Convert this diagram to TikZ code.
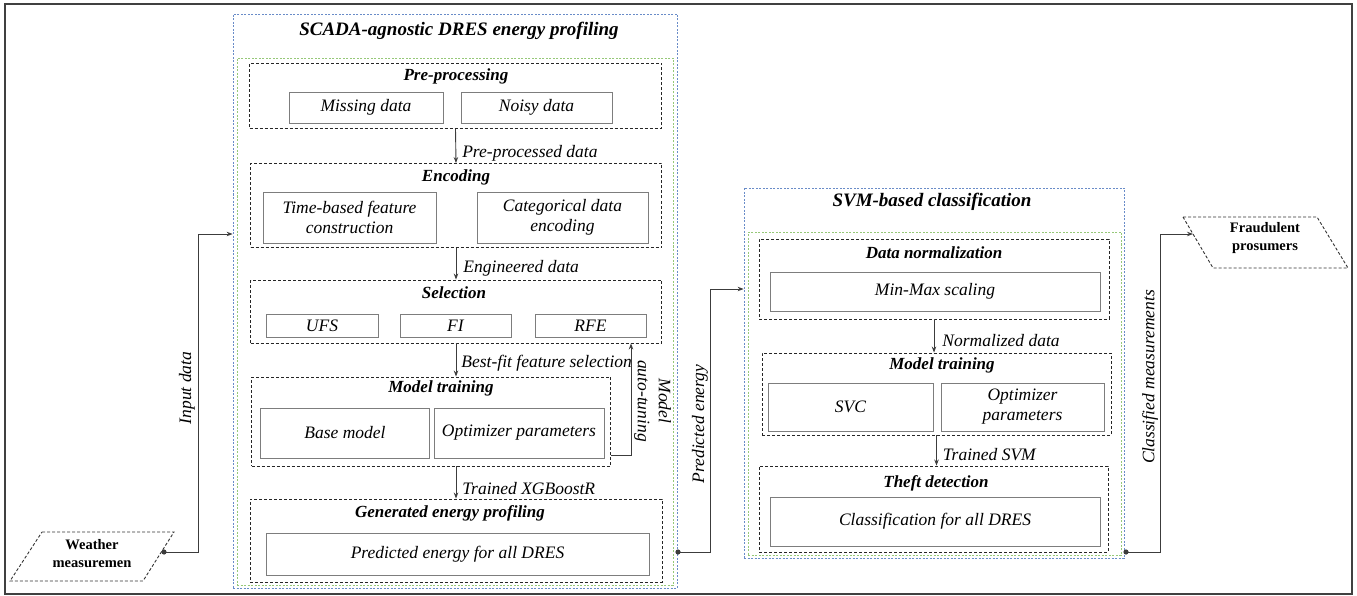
\documentclass[tikz,border=0pt]{standalone}
\usepackage{fontspec}
\setmainfont{Liberation Serif}
\usetikzlibrary{positioning,arrows.meta,calc}
\definecolor{framegray}{RGB}{64,64,64}
\definecolor{outerblue}{RGB}{105,140,200}
\definecolor{innergreen}{RGB}{150,200,120}
\definecolor{itemgray}{RGB}{125,125,125}
\definecolor{linegray}{RGB}{60,60,60}
\newcommand{\weatherpar}{(42,532)--(174,532)--(143,581)--(10,581)--cycle}
\newcommand{\fraudpar}{(1183,217)--(1317,217)--(1348,268)--(1213,268)--cycle}

\begin{document}
\begin{tikzpicture}[x=1pt,y=-1pt,
  boxsize/.style args={#1x#2}{minimum width=#1pt,minimum height=#2pt,inner sep=0pt},
  outerbox/.style={draw=outerblue,line width=0.8pt,dash pattern=on 2pt off 1.5pt},
  innerbox/.style={draw=innergreen,line width=0.8pt,dash pattern=on 2pt off 1.5pt},
  stagebox/.style={draw=black!85,line width=0.9pt,dash pattern=on 3pt off 2pt},
  itembox/.style={draw=itemgray,line width=0.9pt,align=center,
    font=\fontsize{17.5}{20}\selectfont\itshape},
  maintitle/.style={font=\fontsize{19}{22}\selectfont\bfseries\itshape},
  stagetitle/.style={font=\fontsize{17}{20}\selectfont\bfseries\itshape},
  flowlabel/.style={font=\fontsize{17.5}{21}\selectfont\itshape,inner sep=0pt},
  iotext/.style={font=\fontsize{14.5}{18}\selectfont\bfseries,align=center},
  flow/.style={draw=linegray,line width=0.9pt,-{Stealth[length=6pt,width=4.5pt]}}]
  \useasboundingbox (0,0) rectangle (1357,596);
  \draw[framegray,line width=1.6pt] (5,4) rectangle (1352,594);

  % energy profiling block
  \node[outerbox,boxsize=444x574] (scadaout) at (455,301) {};
  \node[innerbox,boxsize=436x527] (scadain) at (455,321.5) {};
  \node[maintitle] (scadatitle) at (459,31) {SCADA-agnostic DRES energy profiling};

  \node[stagebox,boxsize=412x65] (pre) at (455.5,96) {};
  \node[stagetitle] (pretitle) at (456,76) {Pre-processing};
  \node[itembox,boxsize=154x31] (miss) at (366,107.5) {Missing data};
  \node[itembox,boxsize=151x31] (noisy) at (536.5,107.5) {Noisy data};

  \node[stagebox,boxsize=411x84] (enc) at (456,205.5) {};
  \node[stagetitle] (enctitle) at (456,177) {Encoding};
  \node[itembox,boxsize=173x51] (timeb) at (349.5,217.5) {Time-based feature\\construction};
  \node[itembox,boxsize=171x51] (categ) at (562.5,217.5) {Categorical data\\encoding};

  \node[stagebox,boxsize=411x63] (sel) at (456,311.5) {};
  \node[stagetitle] (seltitle) at (454,293) {Selection};
  \node[itembox,boxsize=112x23] (ufs) at (322,325.5) {UFS};
  \node[itembox,boxsize=111x23] (fi) at (455.5,325.5) {FI};
  \node[itembox,boxsize=111x23] (rfe) at (590.5,325.5) {RFE};

  \node[stagebox,boxsize=359x89] (mtr) at (431,421.5) {};
  \node[stagetitle] (mtrtitle) at (441,388) {Model training};
  \node[itembox,boxsize=169x50] (base) at (345,433) {Base model};
  \node[itembox,boxsize=170x50] (optim) at (519,433) {Optimizer parameters};

  \node[stagebox,boxsize=412x83] (gen) at (456,540.5) {};
  \node[stagetitle] (gentitle) at (450,513) {Generated energy profiling};
  \node[itembox,boxsize=383x42] (pred) at (457.5,554) {Predicted energy for all DRES};

  \draw[flow] (pre.south) -- node[flowlabel,pos=0.7,right=6pt] {Pre-processed data} (enc.north);
  \draw[flow] (enc.south) -- node[flowlabel,pos=0.65,right=7pt] {Engineered data} (sel.north);
  \draw[flow] (sel.south) -- node[flowlabel,pos=0.6,right=5pt] {Best-fit feature selection} (sel.south |- mtr.north);
  \draw[flow] (gen.north |- mtr.south) -- node[flowlabel,pos=0.7,right=6pt] {Trained XGBoostR} (gen.north);

  % tuning loop
  \coordinate (fbk) at (631,455);
  \draw[flow] (mtr.east |- fbk) -- (fbk) -- (fbk |- sel.south);
  \node[flowlabel,rotate=-90,align=center] (tunelabel) at (652.5,401) {Model\\auto-tuning};

  % classification block
  \node[outerbox,boxsize=380x370] (svmout) at (934,373) {};
  \node[innerbox,boxsize=373x323] (svmin) at (934.5,393.5) {};
  \node[maintitle] (svmtitle) at (932,202) {SVM-based classification};

  \node[stagebox,boxsize=350x80] (dnorm) at (934,279) {};
  \node[stagetitle] (dnormtitle) at (934,253) {Data normalization};
  \node[itembox,boxsize=330x39] (minmax) at (935,291.5) {Min-Max scaling};

  \node[stagebox,boxsize=349x82] (svmtr) at (936.5,394) {};
  \node[stagetitle] (svmtrtitle) at (942,365) {Model training};
  \node[itembox,boxsize=165x48] (svc) at (850.5,407) {SVC};
  \node[itembox,boxsize=163x48] (svopt) at (1022.5,407) {Optimizer\\parameters};

  \node[stagebox,boxsize=349x86] (theft) at (933.5,509) {};
  \node[stagetitle] (thefttitle) at (936,483) {Theft detection};
  \node[itembox,boxsize=330x49] (classif) at (935,521.5) {Classification for all DRES};

  \draw[flow] (dnorm.south) -- node[flowlabel,pos=0.65,right=8pt] {Normalized data} (dnorm.south |- svmtr.north);
  \draw[flow] (svmtr.south) -- node[flowlabel,pos=0.65,right=6pt] {Trained SVM} (svmtr.south |- theft.north);

  % inputs and outputs
  \draw[black!80,line width=0.9pt,dash pattern=on 3pt off 2pt] \weatherpar;
  \node[iotext] (weather) at (92,554) {Weather\\measuremen};
  \draw[black!80,line width=0.9pt,dash pattern=on 3pt off 2pt] \fraudpar;
  \node[iotext] (fraud) at (1265,238) {Fraudulent\\prosumers};

  \coordinate (wdot) at (164,552);
  \coordinate (inbend) at (198,234);
  \draw[flow] (wdot) -| (inbend) -- (inbend -| scadaout.west);
  \fill[linegray] (wdot) circle (2.6pt);
  \node[flowlabel,rotate=90] (inlabel) at (187,388) {Input data};

  \coordinate (pdot) at (678,552);
  \coordinate (pbend) at (710,289);
  \draw[flow] (pdot) -| (pbend) -- (pbend -| svmout.west);
  \fill[linegray] (pdot) circle (2.6pt);
  \node[flowlabel,rotate=90] (predlabel) at (700,424) {Predicted energy};

  \coordinate (cdot) at (1126,552);
  \coordinate (cbend) at (1160,234);
  \coordinate (fraudin) at (1193,234);
  \draw[flow] (cdot) -| (cbend) -- (fraudin);
  \fill[linegray] (cdot) circle (2.6pt);
  \node[flowlabel,rotate=90] (classlabel) at (1150,377) {Classified measurements};
\end{tikzpicture}
\end{document}
